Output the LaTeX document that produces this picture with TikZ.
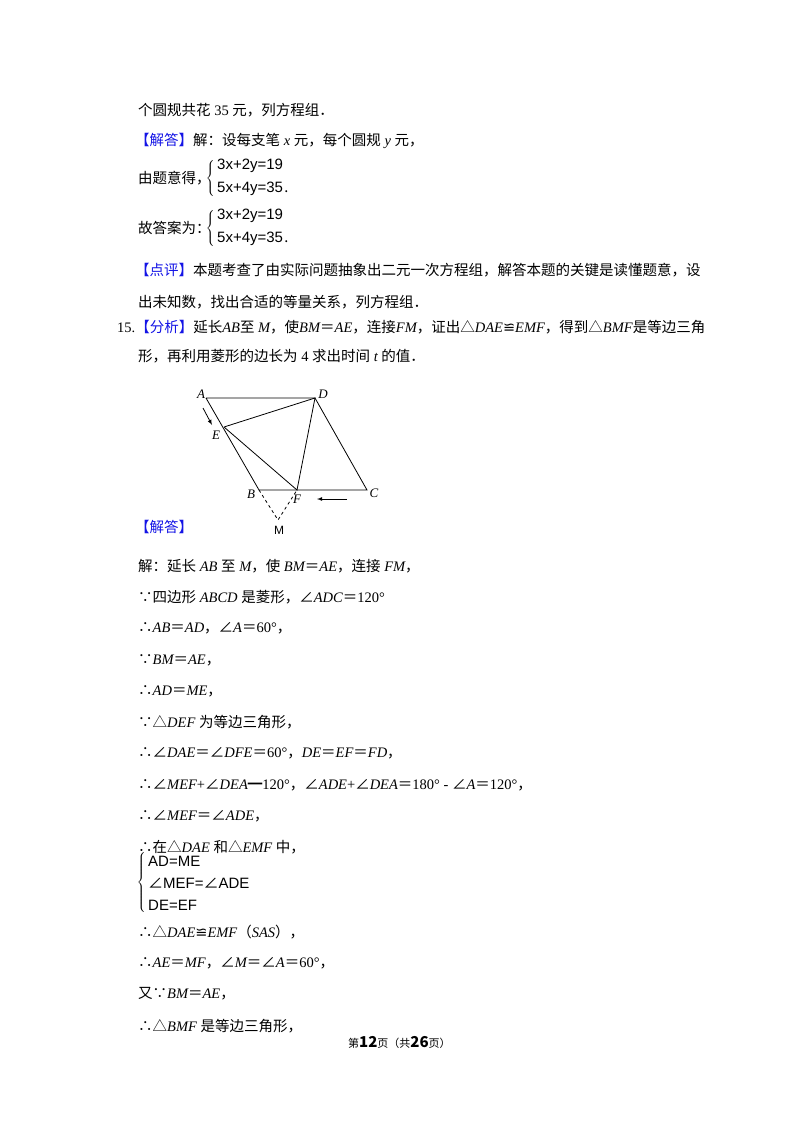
\documentclass[tikz,border=0pt]{standalone}
\usepackage{fontspec}
\setmainfont{Noto Sans CJK SC}
\newfontfamily\ser{Liberation Serif}
\newfontfamily\arl{Liberation Sans}
\newfontfamily\djv{DejaVu Sans}
\definecolor{tagblue}{RGB}{20,20,230}
\newcommand{\tg}[1]{\textcolor{tagblue}{【#1】}}
\newcommand{\mi}[1]{{\ser\itshape #1}}
\newcommand{\mr}[1]{{\ser #1}}
\newcommand{\cg}{{\djv\char"224C}}
\tikzset{ln/.style={anchor=west,inner sep=0pt,font=\fontsize{14.5}{18}\selectfont},
 geo/.style={line width=0.8pt},
 brace/.style={anchor=east,inner sep=0pt},
 lab/.style={font=\fontsize{13}{15}\selectfont\ser\itshape,inner sep=0pt},
 eq/.style={anchor=west,inner sep=0pt,font=\fontsize{15}{17}\selectfont\arl}}
\begin{document}
\begin{tikzpicture}[x=1pt,y=-1pt]
\useasboundingbox[fill=white] (0,0) rectangle (800,1132);
\node[ln] (l1) at (138,110) {个圆规共花\mr{ 35 }元，列方程组．};
\node[ln] (l2) at (135,141) {\tg{解答}解：设每支笔\mi{ x }元，每个圆规\mi{ y }元，};
\node[ln] (l3) at (138,178) {由题意得，};
\node[brace] (b3) at (215,178) {$\left\{\vphantom{\rule{0pt}{22pt}}\right.\kern-\nulldelimiterspace$};
\node[eq] (e31) at (217,166) {3x+2y=19};
\node[eq] (e32) at (217,189) {5x+4y=35};
\node[ln,anchor=south west] at ([xshift=1pt,yshift=3pt]e32.south east) {.};
\node[ln] (l4) at (138,228) {故答案为：};
\node[brace] (b4) at (215,228) {$\left\{\vphantom{\rule{0pt}{22pt}}\right.\kern-\nulldelimiterspace$};
\node[eq] (e41) at (217,216) {3x+2y=19};
\node[eq] (e42) at (217,239) {5x+4y=35};
\node[ln,anchor=south west] at ([xshift=1pt,yshift=3pt]e42.south east) {.};
\node[ln] (l5) at (135,270) {\tg{点评}本题考查了由实际问题抽象出二元一次方程组，解答本题的关键是读懂题意，设};
\node[ln] (l6) at (138,302) {出未知数，找出合适的等量关系，列方程组．};
\node[ln] (l7) at (117,327) {\mr{15.}\tg{分析}延长\mi{AB}至\mi{ M}，使\mi{BM}＝\mi{AE}，连接\mi{FM}，证出△\mi{DAE}\cg\mi{EMF}，得到△\mi{BMF}是等边三角};
\node[ln] (l8) at (138,356) {形，再利用菱形的边长为\mr{ 4 }求出时间\mi{ t }的值．};
% figure
\coordinate (A) at (206,398); \coordinate (D) at (315,398);
\coordinate (E) at (224,427); \coordinate (B) at (259,490);
\coordinate (F) at (297,490); \coordinate (C) at (367,490);
\coordinate (M) at (278,520);
\draw[geo] (A)--(D)--(C)--(B)--(A);
\draw[geo] (E)--(D)--(F)--(E);
\draw[geo,dashed] (B)--(M)--(F);
\draw[geo,-latex] (203,408)--(212,425);
\draw[geo,-latex] (347,499)--(317,499);
\node[lab] at (201,394) {A};
\node[lab] at (323,394) {D};
\node[lab] at (216,435) {E};
\node[lab] at (251,494) {B};
\node[lab] at (297,499) {F};
\node[lab] at (374,493) {C};
\node[lab,font=\fontsize{12}{14}\selectfont\arl] at (279,530) {M};
\node[ln] (l9) at (135,527) {\tg{解答}};
\node[ln] at (138,566) {解：延长\mi{ AB }至\mi{ M}，使\mi{ BM}＝\mi{AE}，连接\mi{ FM}，};
\node[ln] at (138,597) {∵四边形\mi{ ABCD }是菱形，∠\mi{ADC}＝\mr{120°}};
\node[ln] at (138,628) {∴\mi{AB}＝\mi{AD}，∠\mi{A}＝\mr{60°}，};
\node[ln] at (138,660) {∵\mi{BM}＝\mi{AE}，};
\node[ln] at (138,691) {∴\mi{AD}＝\mi{ME}，};
\node[ln] at (138,722) {∵△\mi{DEF }为等边三角形，};
\node[ln] at (138,753) {∴∠\mi{DAE}＝∠\mi{DFE}＝\mr{60°}，\mi{DE}＝\mi{EF}＝\mi{FD}，};
\node[ln] at (138,785) {∴∠\mi{MEF}\mr{+}∠\mi{DEA}━\mr{120°}，∠\mi{ADE}\mr{+}∠\mi{DEA}＝\mr{180° - }∠\mi{A}＝\mr{120°}，};
\node[ln] at (138,816) {∴∠\mi{MEF}＝∠\mi{ADE}，};
\node[ln] at (138,847) {∴在△\mi{DAE }和△\mi{EMF }中，};
\node[brace] at (146,882) {$\left\{\vphantom{\rule{0pt}{34pt}}\right.\kern-\nulldelimiterspace$};
\node[eq] at (148,861) {AD=ME};
\node[eq] at (148,883) {{\rmfamily ∠}MEF={\rmfamily ∠}ADE};
\node[eq] at (148,905) {DE=EF};
\node[ln] at (138,932) {∴△\mi{DAE}\cg\mi{EMF}（\mi{SAS}），};
\node[ln] at (138,963) {∴\mi{AE}＝\mi{MF}，∠\mi{M}＝∠\mi{A}＝\mr{60°}，};
\node[ln] at (138,994) {又∵\mi{BM}＝\mi{AE}，};
\node[ln] at (138,1026) {∴△\mi{BMF }是等边三角形，};
\node[anchor=west,inner sep=0pt,font=\fontsize{11}{13}\selectfont] at (348,1042) {第{\bfseries\fontsize{15}{17}\selectfont 12}页（共{\bfseries\fontsize{15}{17}\selectfont 26}页）};
\end{tikzpicture}
\end{document}
